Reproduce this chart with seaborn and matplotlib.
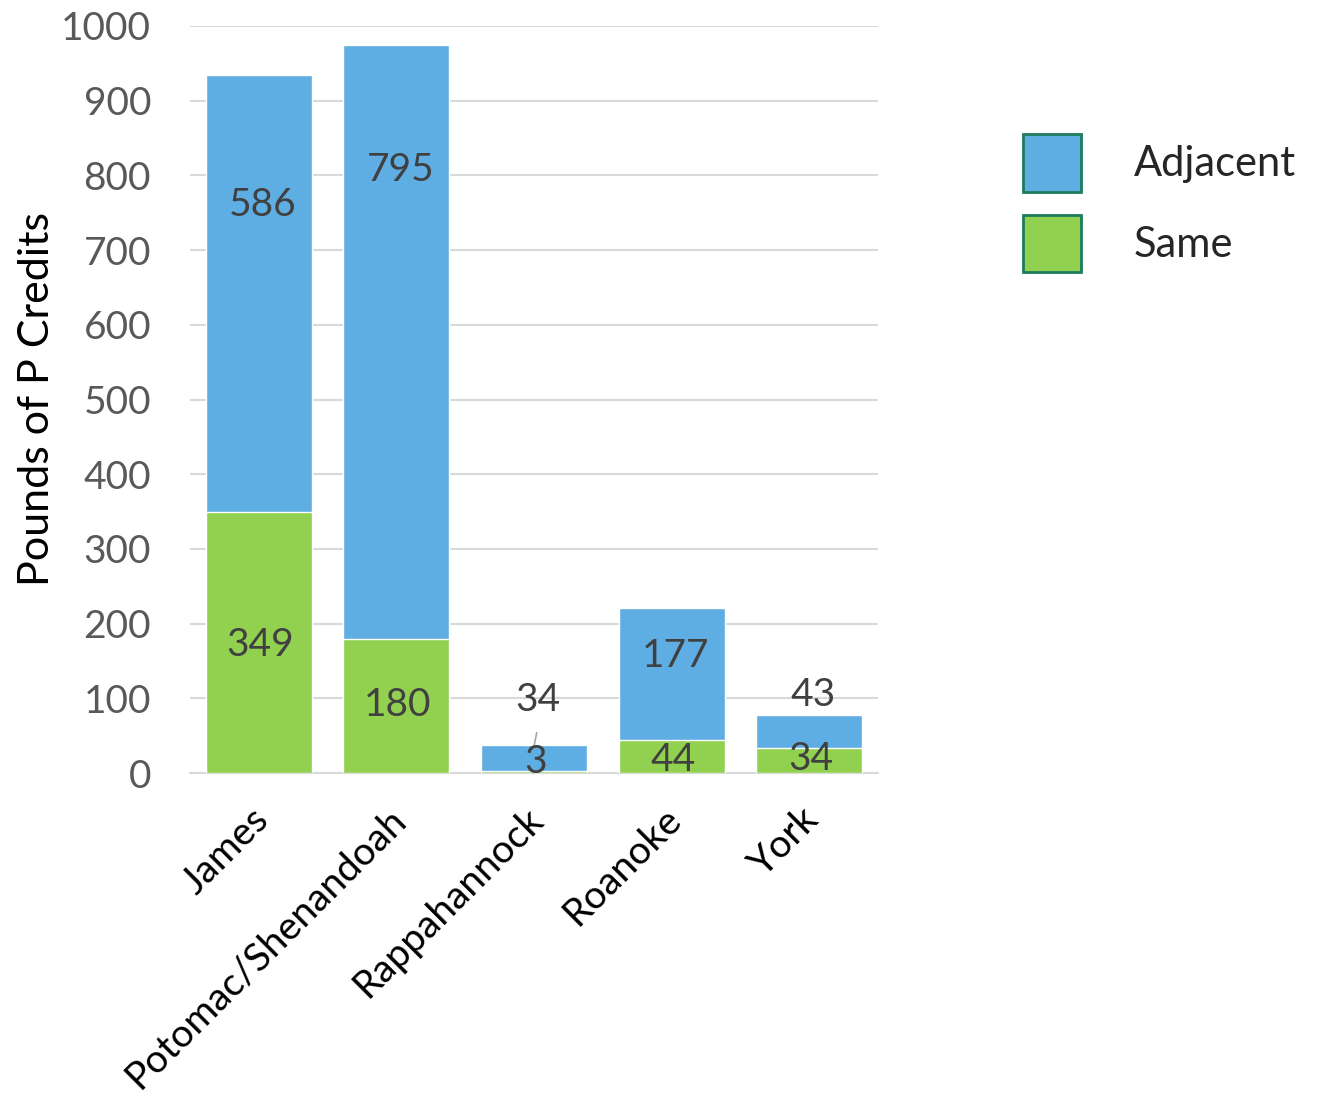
import matplotlib
matplotlib.use("Agg")
import matplotlib.pyplot as plt
import matplotlib.transforms as mtransforms
from matplotlib.patches import Patch
import seaborn as sns
import pandas as pd

basins = ["James", "Potomac/Shenandoah", "Rappahannock", "Roanoke", "York"]
same = [349, 180, 3, 44, 34]
adjacent = [586, 795, 34, 177, 43]

# where each value label sits (data units on the y axis)
adjacent_label_y = [760, 807, 98, 157, 104]
same_label_y = [171, 91, 15, 17, 19]

blue = "#5FAEE3"
green = "#92D050"
edge_green = "#1E7B5E"
tick_grey = "#595959"
label_grey = "#404040"

sns.set_theme(style="white")
plt.rcParams["font.family"] = ["Lato", "DejaVu Sans"]

df = pd.DataFrame({
    "basin": basins,
    "same": same,
    "adjacent": adjacent,
})
df["total"] = df["same"] + df["adjacent"]

fig = plt.figure(figsize=(13.28, 11.04), dpi=100)
ax = fig.add_axes([190 / 1328, 1 - 773 / 1104, 688 / 1328, 747 / 1104])

sns.barplot(data=df, x="basin", y="total", color=blue, saturation=1,
            width=0.77, ax=ax, zorder=2)
sns.barplot(data=df, x="basin", y="same", color=green, saturation=1,
            width=0.77, ax=ax, zorder=3)

ax.set_ylim(0, 1000)
ax.set_xlim(-0.5, len(basins) - 0.5)
ax.set_yticks(range(0, 1001, 100))
ax.yaxis.grid(True, color="#D9D9D9", linewidth=1.5, zorder=0)
ax.set_axisbelow(True)
for side in ["left", "right", "top"]:
    ax.spines[side].set_visible(False)
ax.spines["bottom"].set_color("#D9D9D9")
ax.spines["bottom"].set_linewidth(1.5)
ax.tick_params(axis="y", length=0, pad=28, labelsize=28, labelcolor=tick_grey)
ax.tick_params(axis="x", length=0, pad=20, labelsize=28)
ax.set_xlabel("")
ax.set_ylabel("Pounds of P Credits", fontsize=31, color="black", labelpad=4)

shift = mtransforms.ScaledTranslation(-9 / 100, 0, fig.dpi_scale_trans)
for lab in ax.get_xticklabels():
    lab.set_rotation(45)
    lab.set_ha("right")
    lab.set_va("top")
    lab.set_rotation_mode("anchor")
    lab.set_color("black")
    lab.set_transform(lab.get_transform() + shift)

for i in range(len(basins)):
    ax.text(i + 0.03, adjacent_label_y[i], str(adjacent[i]), ha="center",
            va="center", fontsize=28, color=label_grey, zorder=5)
    ax.text(i + 0.01, same_label_y[i], str(same[i]), ha="center",
            va="center", fontsize=28, color=label_grey, zorder=5)

# leader line from the small Rappahannock label down to its bar
ax.plot([2.02, 2.0], [54, 36], color="#A6A6A6", linewidth=1.2, zorder=4)

handles = [
    Patch(facecolor=blue, edgecolor=edge_green, linewidth=2, label="Adjacent"),
    Patch(facecolor=green, edgecolor=edge_green, linewidth=2, label="Same"),
]
fig.legend(handles=handles, loc="upper left",
           bbox_to_anchor=(1023 / 1328, 1 - 134 / 1104), frameon=False,
           borderpad=0, borderaxespad=0,
           fontsize=30, handlelength=1.4, handleheight=1.75,
           handletextpad=1.25, labelspacing=0.55)

fig.savefig("out.png", dpi=100)
